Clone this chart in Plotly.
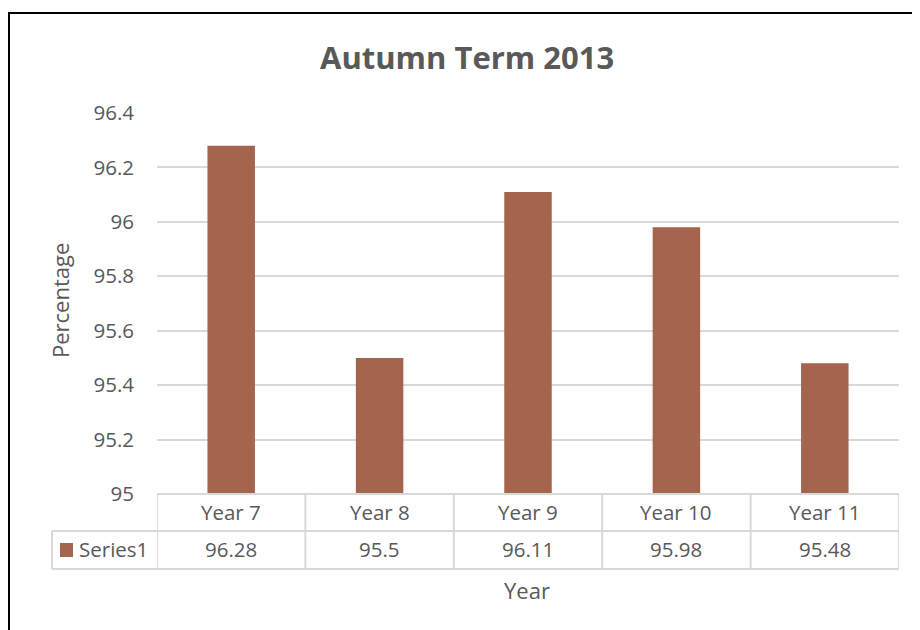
import plotly.graph_objects as go

categories = ["Year 7", "Year 8", "Year 9", "Year 10", "Year 11"]
values = [96.28, 95.5, 96.11, 95.98, 95.48]
value_labels = ["96.28", "95.5", "96.11", "95.98", "95.48"]
y_ticks = [95, 95.2, 95.4, 95.6, 95.8, 96, 96.2, 96.4]
y_tick_labels = ["95", "95.2", "95.4", "95.6", "95.8", "96", "96.2", "96.4"]
series_name = "Series1"
title_text = "Autumn Term 2013"

BAR = "#a5644e"
TXT = "#595959"
GRID = "#d9d9d9"
FONT = "Open Sans"

OFF = 8  # page body offset
W, H = 912, 630
L, R, T, B = 157 - OFF, 21, 113 - OFF, 136 + OFF
pw, ph = W - L - R, H - T - B


def px_x(x):
    return (x - OFF - L) / pw


def px_y(y):
    return (H - B - (y - OFF)) / ph


fig = go.Figure()
fig.add_trace(go.Bar(x=categories, y=values, marker=dict(color=BAR, line=dict(width=0)),
                     width=0.32, name=series_name, showlegend=False, hoverinfo="x+y"))

shapes = []
annotations = []
n = len(categories)
tl = dict(color=GRID, width=2)
# table horizontal lines
shapes.append(dict(type="line", xref="x", yref="paper", x0=-0.5, x1=n - 0.5,
                   y0=px_y(494), y1=px_y(494), line=tl))
for yy in [531, 569]:
    shapes.append(dict(type="line", xref="paper", yref="paper", x0=px_x(52), x1=1.0,
                       y0=px_y(yy), y1=px_y(yy), line=tl))
# table vertical lines
for i in range(n + 1):
    shapes.append(dict(type="line", xref="x", yref="paper", x0=i - 0.5, x1=i - 0.5,
                       y0=px_y(494), y1=px_y(569), line=tl))
shapes.append(dict(type="line", xref="paper", yref="paper", x0=px_x(52), x1=px_x(52),
                   y0=px_y(531), y1=px_y(569), line=tl))
# legend key
shapes.append(dict(type="rect", xref="paper", yref="paper", x0=px_x(60), x1=px_x(73),
                   y0=px_y(557), y1=px_y(543), fillcolor=BAR, line=dict(width=0)))
# outer frame
shapes.append(dict(type="rect", xref="paper", yref="paper", x0=px_x(9), x1=px_x(940),
                   y0=px_y(650), y1=px_y(13), line=dict(color="black", width=2),
                   fillcolor="rgba(0,0,0,0)"))

for c, v in zip(categories, value_labels):
    annotations.append(dict(x=c, xref="x", y=px_y(512), yref="paper", text=c, showarrow=False,
                            font=dict(family=FONT, size=20.5, color=TXT), yanchor="middle"))
    annotations.append(dict(x=c, xref="x", y=px_y(549), yref="paper", text=v, showarrow=False,
                            font=dict(family=FONT, size=20.5, color=TXT), yanchor="middle"))
annotations.append(dict(x=px_x(77), xref="paper", y=px_y(549), yref="paper", text=series_name,
                        showarrow=False, xanchor="left", yanchor="middle",
                        font=dict(family=FONT, size=20.5, color=TXT)))
annotations.append(dict(x=px_x(467), xref="paper", y=px_y(57), yref="paper", text="<b>" + title_text + "</b>",
                        showarrow=False, yanchor="middle",
                        font=dict(family=FONT, size=31, color=TXT)))
annotations.append(dict(x=px_x(527), xref="paper", y=px_y(590), yref="paper", text="Year",
                        showarrow=False, yanchor="middle",
                        font=dict(family=FONT, size=22, color=TXT)))
annotations.append(dict(x=px_x(60), xref="paper", y=px_y(301), yref="paper", text="Percentage",
                        showarrow=False, textangle=-90, xanchor="center", yanchor="middle",
                        font=dict(family=FONT, size=22, color=TXT)))

fig.update_layout(
    width=W, height=H, autosize=False,
    margin=dict(l=L, r=R, t=T, b=B),
    paper_bgcolor="white", plot_bgcolor="white",
    showlegend=False,
    shapes=shapes, annotations=annotations,
    xaxis=dict(type="category", range=[-0.5, n - 0.5], showticklabels=False, showgrid=False,
               zeroline=False, showline=False, ticks=""),
    yaxis=dict(range=[95, 96.4], tickvals=y_ticks, ticktext=y_tick_labels, showgrid=True,
               gridcolor=GRID, gridwidth=1.5, zeroline=False, showline=False, ticks="",
               ticklabelstandoff=22,
               tickfont=dict(family=FONT, size=20.5, color=TXT)),
)

fig.write_html("out.html")
